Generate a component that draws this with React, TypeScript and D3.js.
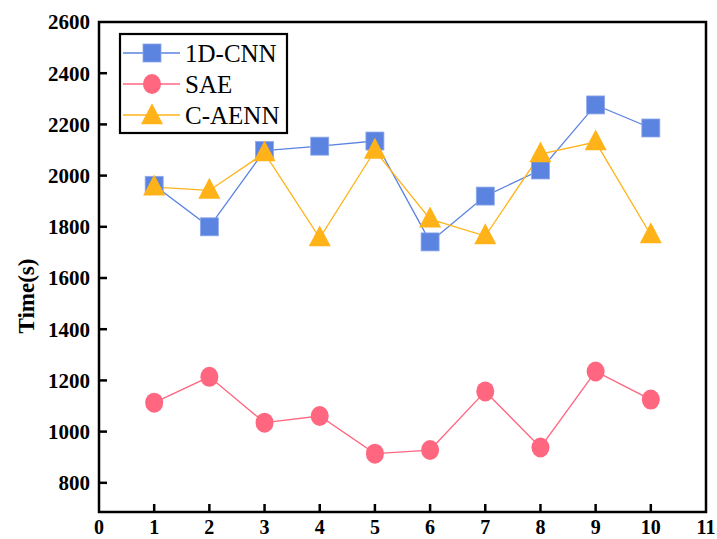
import React, { useEffect, useRef } from 'react';
import * as d3 from 'd3';

const runs = [1, 2, 3, 4, 5, 6, 7, 8, 9, 10];
const cnnTimes = [1962, 1800, 2098, 2115, 2135, 1741, 1920, 2022, 2276, 2186];
const saeTimes = [1113, 1214, 1035, 1061, 914, 928, 1157, 938, 1235, 1125];
const caennTimes = [1955, 1942, 2088, 1756, 2098, 1830, 1764, 2084, 2131, 1768];
const yTicks = [800, 1000, 1200, 1400, 1600, 1800, 2000, 2200, 2400, 2600];
const xTicks = [0, 1, 2, 3, 4, 5, 6, 7, 8, 9, 10, 11];
const seriesNames = ['1D-CNN', 'SAE', 'C-AENN'];

const COLORS = ['#5b83e0', '#ff6680', '#ffb319'];
const FONT = '"Liberation Serif", "Times New Roman", serif';

function App() {
  const svgRef = useRef<SVGSVGElement | null>(null);

  useEffect(() => {
    const width = 717;
    const height = 539;
    const left = 99, right = 706, top = 22, bottom = 512;

    const svg = d3.select(svgRef.current);
    svg.selectAll('*').remove();

    const x = d3.scaleLinear().domain([0, 11]).range([left, right]);
    const y = d3.scaleLinear().domain([686, 2600]).range([bottom, top]);

    const line = d3.line<number>()
      .x((d, i) => x(runs[i]))
      .y(d => y(d));

    const allSeries = [cnnTimes, saeTimes, caennTimes];

    // connecting lines
    allSeries.forEach((vals, si) => {
      svg.append('path')
        .attr('d', line(vals))
        .attr('fill', 'none')
        .attr('stroke', COLORS[si])
        .attr('stroke-width', 1.3);
    });

    const drawMarker = (g: any, kind: number, cx: number, cy: number) => {
      if (kind === 0) {
        g.append('rect')
          .attr('x', cx - 9).attr('y', cy - 9)
          .attr('width', 18).attr('height', 18)
          .attr('fill', COLORS[0])
          .attr('stroke', '#8fa8ea').attr('stroke-width', 0.8);
      } else if (kind === 1) {
        g.append('ellipse')
          .attr('cx', cx).attr('cy', cy)
          .attr('rx', 9).attr('ry', 10)
          .attr('fill', COLORS[1]);
      } else {
        const s = 11;
        g.append('path')
          .attr('d', `M${cx},${cy - s * 1.15}L${cx + s},${cy + s * 0.75}L${cx - s},${cy + s * 0.75}Z`)
          .attr('fill', COLORS[2]);
      }
    };

    const markers = svg.append('g');
    allSeries.forEach((vals, si) => {
      vals.forEach((v, i) => drawMarker(markers, si, x(runs[i]), y(v)));
    });

    // frame
    svg.append('rect')
      .attr('x', left).attr('y', top)
      .attr('width', right - left).attr('height', bottom - top)
      .attr('fill', 'none')
      .attr('stroke', '#000')
      .attr('stroke-width', 2.5);

    // y ticks (inward)
    const yAxis = svg.append('g');
    yTicks.forEach(t => {
      if (t !== 2600) {
        yAxis.append('line')
          .attr('x1', left).attr('x2', left + 8)
          .attr('y1', y(t)).attr('y2', y(t))
          .attr('stroke', '#000').attr('stroke-width', 2.5);
      }
      yAxis.append('text')
        .attr('x', left - 9)
        .attr('y', y(t))
        .attr('dy', '0.35em')
        .attr('text-anchor', 'end')
        .attr('font-family', FONT)
        .attr('font-weight', 'bold')
        .attr('font-size', 21)
        .text(t);
    });

    // x ticks (inward)
    const xAxis = svg.append('g');
    xTicks.forEach(t => {
      if (t !== 0 && t !== 11) {
        xAxis.append('line')
          .attr('x1', x(t)).attr('x2', x(t))
          .attr('y1', bottom).attr('y2', bottom - 8)
          .attr('stroke', '#000').attr('stroke-width', 2.5);
      }
      xAxis.append('text')
        .attr('x', x(t))
        .attr('y', 534)
        .attr('text-anchor', 'middle')
        .attr('font-family', FONT)
        .attr('font-weight', 'bold')
        .attr('font-size', 20)
        .text(t);
    });

    // y label
    svg.append('text')
      .attr('transform', `translate(34, 296) rotate(-90)`)
      .attr('text-anchor', 'middle')
      .attr('font-family', FONT)
      .attr('font-weight', 'bold')
      .attr('font-size', 23)
      .text('Time(s)');

    // legend
    const legend = svg.append('g').attr('transform', 'translate(120, 34)');
    legend.append('rect')
      .attr('width', 167).attr('height', 99)
      .attr('fill', '#fff')
      .attr('stroke', '#000')
      .attr('stroke-width', 2.2);
    seriesNames.forEach((name, i) => {
      const ly = 19 + i * 31;
      legend.append('line')
        .attr('x1', 3).attr('x2', 60)
        .attr('y1', ly).attr('y2', ly)
        .attr('stroke', COLORS[i])
        .attr('stroke-width', 1.3);
      drawMarker(legend, i, 32, i === 2 ? ly + 1 : ly);
      legend.append('text')
        .attr('x', 65)
        .attr('y', ly)
        .attr('dy', '0.35em')
        .attr('font-family', FONT)
        .attr('font-size', 25)
        .text(name);
    });

    svg.attr('width', width).attr('height', height);
  }, []);

  return (
    <div style={{ position: 'fixed', left: 0, top: 0, width: 717, height: 539, overflow: 'hidden' }}>
      <svg ref={svgRef} width={717} height={539} style={{ display: 'block', background: '#fff' }} />
    </div>
  );
}

export default App;
